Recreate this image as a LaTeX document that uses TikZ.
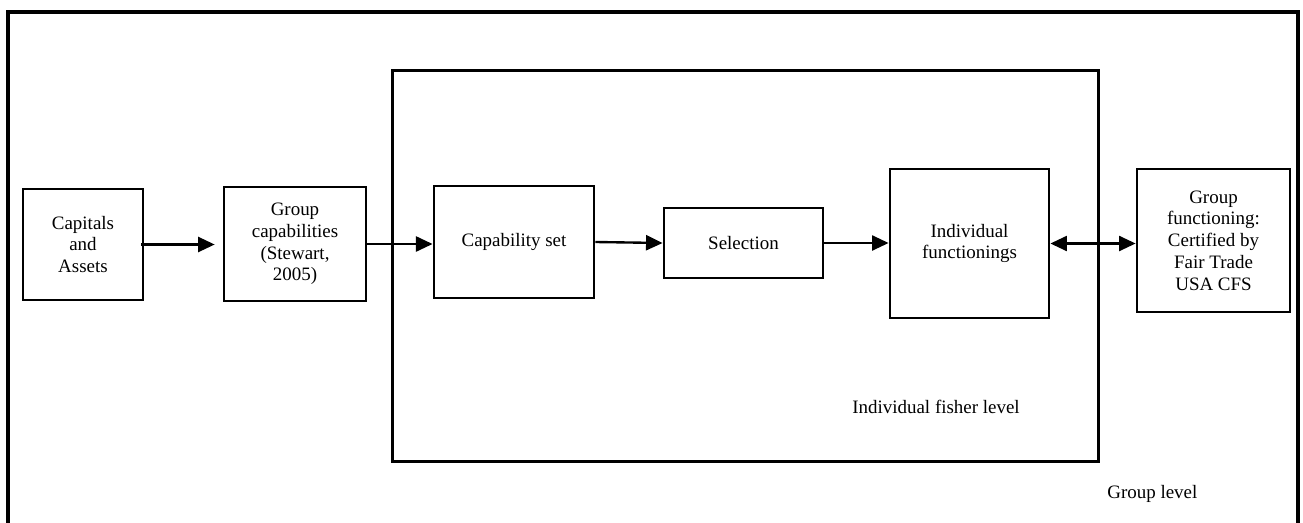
\documentclass[tikz,border=0pt]{standalone}
\usepackage{fontspec}
\setmainfont{Liberation Serif}
\usetikzlibrary{arrows.meta}
\begin{document}
\begin{tikzpicture}[x=0.633pt,y=-0.633pt,
  box/.style={draw,line width=1.8pt,inner sep=0pt,align=center,font=\fontsize{12}{13.8}\selectfont},
  conn/.style={line width=1.5pt,-{Triangle[length=10.5pt,width=9.5pt]}},
  biconn/.style={line width=1.5pt,{Triangle[length=10.5pt,width=9.5pt]}-{Triangle[length=10.5pt,width=9.5pt]}},
  lbl/.style={anchor=west,inner sep=0pt,font=\fontsize{12}{13.8}\selectfont}]
\useasboundingbox (0,0) rectangle (1303,522);
% outer group-level frame (bottom edge lies below the picture)
\draw[line width=2pt] (8,535) -- (8,12) -- (1298,12) -- (1298,535);
% inner individual-level frame
\node[draw,line width=1.9pt,inner sep=0pt,minimum width=446.3pt,minimum height=248.1pt] (inner) at (745.5,266) {};
\node[box,minimum width=76pt,minimum height=70.3pt] (cap) at (83,244.5) {Capitals\\and\\Assets};
\node[box,minimum width=89.9pt,minimum height=72.2pt] (gcap) at (295,244) {Group\\capabilities\\(Stewart,\\2005)};
\node[box,minimum width=101.3pt,minimum height=70.9pt] (cset) at (514,242) {Capability set};
\node[box,minimum width=100.6pt,minimum height=44.3pt] (sel) at (743.5,243) {Selection};
\node[box,minimum width=100.6pt,minimum height=94.3pt] (ifun) at (969.5,243.5) {Individual\\functionings};
\node[box,minimum width=96.8pt,minimum height=90.5pt] (gfun) at (1213.5,240.5) {Group\\functioning:\\Certified by\\Fair Trade\\USA CFS};
\node[lbl] (ifl) at (852,407) {Individual fisher level};
\node[lbl] (gl) at (1107,494) {Group level};
\draw[conn,shorten <=-2pt,shorten >=5pt] (cap.east) -- (cap.east -| gcap.west);
\draw[conn] (gcap.east) -- (gcap.east -| cset.west);
\draw[conn] (cset.east) -- (sel.west);
\draw[conn] (sel.east) -- (sel.east -| ifun.west);
\draw[biconn] (ifun.east) -- (ifun.east -| gfun.west);
\end{tikzpicture}
\end{document}
